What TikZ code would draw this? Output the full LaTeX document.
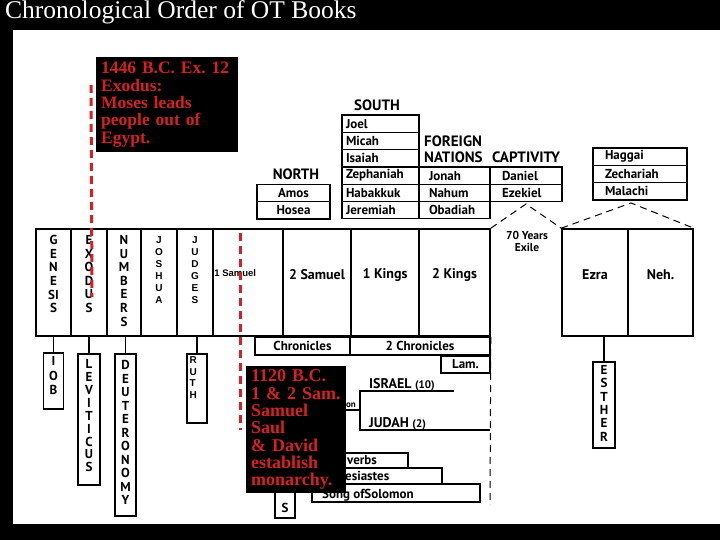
\documentclass[tikz,border=0pt]{standalone}
\usepackage{fontspec}
\setmainfont{Liberation Serif}
\newfontfamily\chartfont{PT Sans}
\newfontfamily\labelfont{Liberation Sans}
\usepackage{tikz}
\usetikzlibrary{positioning}
\definecolor{NoteRed}{RGB}{214,32,36}

\begin{document}
\begin{tikzpicture}[x=1pt, y=-1pt,
    bookbox/.style={draw, line width=1.6pt, inner sep=0pt},
    smallbox/.style={draw, line width=1.3pt, inner sep=0pt},
    vword/.style={align=center, inner sep=0pt,
      font=\chartfont\bfseries\fontsize{13}{#1}\selectfont},
    vword/.default=13.6,
    tinyword/.style={align=center, inner sep=0pt,
      font=\labelfont\bfseries\fontsize{10}{#1}\selectfont},
    tinyword/.default=12,
    booklabel/.style={inner sep=0pt, font=\chartfont\bfseries\fontsize{14}{16}\selectfont},
    rowtext/.style={inner sep=0pt, font=\chartfont\bfseries\fontsize{13}{14}\selectfont},
    header/.style={inner sep=0pt, align=left, font=\chartfont\bfseries\fontsize{15}{16}\selectfont},
    tent/.style={line width=1pt, dash pattern=on 7pt off 5pt},
    timeline/.style={NoteRed, line width=3pt, dash pattern=on 8pt off 5pt},
    callout/.style={fill=black, text=NoteRed, inner ysep=0pt, inner xsep=5pt, align=left,
      font=\bfseries\frenchspacing\fontsize{#1}{17.3}\selectfont}]

  \fill[black] (0,0) rectangle (720,540);
  \fill[white] (13,30) rectangle (720,524);
  \node[anchor=base west, text=white, inner sep=0pt, font=\fontsize{25.5}{30}\selectfont]
    (title) at (5,19) {Chronological Order of OT Books};

  % the books in a row
  \foreach \n/\cx/\w in {gen/53.5/35, exo/89/36, num/124/34, jos/159/36, jdg/195/36,
      sama/248/70, samb/317/68, kgsa/385/68, kgsb/454.5/71, ezra/595/66, neh/660.5/65}
    \node[bookbox, minimum width=\w, minimum height=107] (\n) at (\cx,282.5) {};
  \node[vword, below=7pt of gen.north] (gen-t) {G\\E\\N\\E\\SI\\S};
  \node[vword, below=7pt of exo.north] (exo-t) {E\\X\\O\\D\\U\\S};
  \node[vword, below=7pt of num.north] (num-t) {N\\U\\M\\B\\E\\R\\S};
  \node[tinyword, below=8pt of jos.north] (jos-t) {J\\O\\S\\H\\U\\A};
  \node[tinyword, below=8pt of jdg.north] (jdg-t) {J\\U\\D\\G\\E\\S};
  \node[anchor=west, inner sep=0pt, font=\labelfont\bfseries\fontsize{9.5}{10}\selectfont]
    (sama-t) at ([xshift=2pt,yshift=9pt]sama.west) {1 Samuel};
  \foreach \n/\t in {samb/2 Samuel, kgsa/1 Kings, kgsb/2 Kings, ezra/Ezra, neh/Neh.}
    \node[booklabel] (\n-t) at ([yshift=8pt]\n.center) {\t};

  % books hung below
  \node[smallbox, minimum width=20, minimum height=56] (job) at (53.5,381) {};
  \node[smallbox, minimum width=22, minimum height=131] (lev) at (89,419.5) {};
  \node[smallbox, minimum width=21, minimum height=162] (deu) at (125.5,435) {};
  \node[smallbox, minimum width=20, minimum height=69] (ruth) at (197,388.5) {};
  \node[smallbox, minimum width=22, minimum height=86] (esth) at (604,405) {};
  \node[vword=14.5, below=4pt of job.north] (job-t) {I\\O\\B};
  \node[vword=12.9, below=6pt of lev.north] (lev-t) {L\\E\\V\\I\\T\\I\\C\\U\\S};
  \node[vword=13.5, below=7pt of deu.north] (deu-t) {D\\E\\U\\T\\E\\R\\O\\N\\O\\M\\Y};
  \node[tinyword=11.7, align=left, anchor=north west] (ruth-t)
    at ([xshift=3pt,yshift=-3pt]ruth.north west) {R\\U\\T\\H};
  \node[vword=13.3, below=4pt of esth.north] (esth-t) {E\\S\\T\\H\\E\\R};
  \foreach \a/\b in {job/gen, lev/exo, deu/num, ruth/jdg, esth/ezra}
    \draw[line width=1.3pt] (\a.north) -- (\a.north |- \b.south);

  % prophets
  \node[header] (north) at (296,174) {NORTH};
  \node[smallbox, rowtext, minimum width=73, minimum height=17.3] (amos) at (293.5,193) {Amos};
  \node[smallbox, rowtext, minimum width=73, minimum height=17.3] (hosea) at (293.5,210.3) {Hosea};
  \node[header] (south) at (377,105) {SOUTH};
  \foreach \n/\t [count=\i] in {joel/Joel, micah/Micah, isaiah/Isaiah, zeph/Zephaniah,
      hab/Habakkuk, jer/Jeremiah}
    \node[smallbox, rowtext, minimum width=77, minimum height=17.3, text width=69, align=left]
      (\n) at (380.5,{106.4+17.3*\i}) {\t};
  \node[header, anchor=west] (foreign) at (424,149) {FOREIGN\\NATIONS};
  \foreach \n/\t [count=\i from 4] in {jonah/Jonah, nahum/Nahum, obad/Obadiah}
    \node[smallbox, rowtext, minimum width=71, minimum height=17.3, text width=51, align=left]
      (\n) at (454.5,{106.4+17.3*\i}) {\t};
  \node[header, anchor=west] (captivity) at (492,157) {CAPTIVITY};
  \foreach \n/\t [count=\i from 4] in {daniel/Daniel, ezek/Ezekiel}
    \node[smallbox, rowtext, minimum width=72, minimum height=17.3, text width=48, align=left]
      (\n) at (526,{106.4+17.3*\i}) {\t};
  \foreach \n/\t [count=\i] in {haggai/Haggai, zech/Zechariah, mal/Malachi}
    \node[smallbox, rowtext, minimum width=94, minimum height=17.3, text width=70, align=left]
      (\n) at (640,{139.4+17.3*\i}) {\t};

  % exile and return
  \node[inner sep=0pt, align=center, font=\chartfont\bfseries\fontsize{11.5}{12.5}\selectfont]
    (exile) at (527,241.5) {70 Years\\Exile};
  \coordinate (exile-top) at (526,204);
  \coordinate (return-top) at (631,203);
  \draw[tent] (kgsb.north east) -- (exile-top) -- (ezra.north west);
  \draw[tent] (ezra.north west) -- (return-top) -- (neh.north east);

  % chronicles, kingdom split, wisdom books
  \coordinate (div-end) at (490,505);
  \draw[tent] (kgsb.south east) -- (div-end);
  \node[smallbox, rowtext, minimum width=95, minimum height=18] (chr1) at (302.5,346) {Chronicles};
  \node[smallbox, rowtext, minimum width=140, minimum height=18] (chr2) at (420,346) {2 Chronicles};
  \node[smallbox, rowtext, fill=white, minimum width=49, minimum height=17] (lam) at (465.5,364.5) {Lam.};
  \coordinate (isr-end) at (454,391);
  \coordinate (jud-end) at (490,430);
  \coordinate (split) at (360,410);
  \draw[line width=1.3pt] (isr-end) -- (isr-end -| split) |- (jud-end);
  \draw[line width=1.1pt] (split) -- ++(-30,0);
  \node[anchor=base west, inner sep=0pt, font=\chartfont\bfseries\fontsize{14}{16}\selectfont]
    (israel) at (369,388) {ISRAEL {\fontsize{11}{12}\selectfont(10)}};
  \node[anchor=base west, inner sep=0pt, font=\chartfont\bfseries\fontsize{14}{16}\selectfont]
    (judah) at (369,427) {JUDAH {\fontsize{11}{12}\selectfont(2)}};
  \node[anchor=base, inner sep=0pt, font=\chartfont\bfseries\fontsize{9}{10}\selectfont]
    (division) at (351,407) {on};
  \node[smallbox, minimum width=20, minimum height=78] (psalm) at (285,479) {};
  \node[smallbox, minimum width=108, minimum height=15] (prov) at (354,460.5) {};
  \node[smallbox, minimum width=142, minimum height=16] (eccl) at (371,476) {};
  \node[smallbox, minimum width=168, minimum height=18] (song) at (396,493) {};
  \node[rowtext, anchor=west] (prov-t) at (347,460.5) {verbs};
  \node[rowtext, anchor=west] (eccl-t) at (345,476) {esiastes};
  \node[rowtext, anchor=west] (song-t) at (322,495.5) {Song ofSolomon};
  \node[rowtext, anchor=south] (psalm-t) at (285,513) {S};

  % dates
  \coordinate (exodus-a) at (91,85);
  \coordinate (exodus-b) at (92,297);
  \draw[timeline] (exodus-a) -- (exodus-b);
  \coordinate (monarchy-a) at (240,233);
  \coordinate (monarchy-b) at (240,430);
  \draw[timeline] (monarchy-a) -- (monarchy-b);
  \node[callout=17.5, text width=132, anchor=north west, minimum height=95] (exodus)
    at (96,57) {1446 B.C. Ex. 12\\Exodus:\\Moses leads\\people out of\\Egypt.};
  \node[callout=18, text width=90, anchor=north west, minimum height=127] (monarchy)
    at (246,366) {1120 B.C.\\1 \& 2 Sam.\\Samuel\\Saul\\\& David\\establish\\monarchy.};
\end{tikzpicture}
\end{document}
